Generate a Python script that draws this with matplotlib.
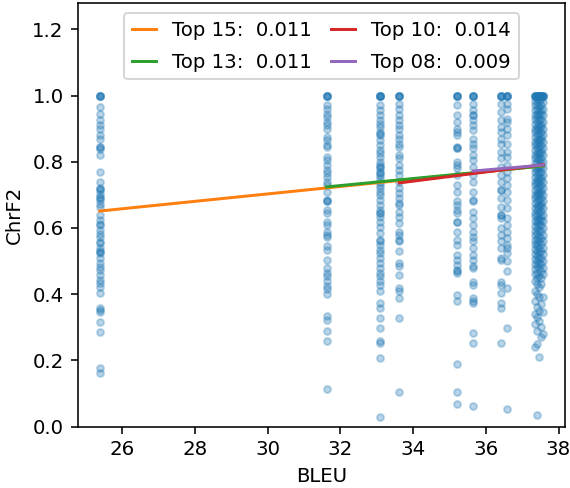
import matplotlib
matplotlib.use("Agg")
import matplotlib.pyplot as plt

# BLEU score of each system (one column of sentences per system)
bleu = [25.38, 31.62, 33.08, 33.62, 35.21, 35.66, 36.42, 36.58,
        37.34, 37.40, 37.46, 37.52, 37.58]

# sentence-level ChrF2 per system
chrf_2538 = [1.0, 1.0, 1.0, 1.0, 0.965, 0.945, 0.925, 0.91, 0.90, 0.88, 0.87, 0.844,
             0.844, 0.839, 0.819, 0.769, 0.739, 0.722, 0.719, 0.716, 0.704, 0.692,
             0.689, 0.683, 0.673, 0.663, 0.638, 0.623, 0.612, 0.608, 0.593, 0.583,
             0.573, 0.556, 0.553, 0.538, 0.531, 0.528, 0.523, 0.508, 0.493, 0.483,
             0.473, 0.458, 0.443, 0.433, 0.423, 0.402, 0.357, 0.352, 0.347, 0.317,
             0.287, 0.176, 0.163]
chrf_3162 = [1.0, 1.0, 1.0, 1.0, 0.97, 0.96, 0.945, 0.935, 0.92, 0.91, 0.90, 0.875,
             0.865, 0.85, 0.845, 0.815, 0.805, 0.79, 0.775, 0.765, 0.754, 0.74, 0.73,
             0.71, 0.684, 0.68, 0.68, 0.654, 0.644, 0.619, 0.609, 0.589, 0.579, 0.574,
             0.544, 0.534, 0.504, 0.479, 0.464, 0.454, 0.439, 0.424, 0.414, 0.399,
             0.333, 0.323, 0.288, 0.258, 0.113]
chrf_3308 = [1.0, 1.0, 1.0, 1.0, 1.0, 0.97, 0.955, 0.94, 0.925, 0.915, 0.905, 0.89,
             0.885, 0.88, 0.865, 0.85, 0.835, 0.825, 0.815, 0.80, 0.79, 0.785, 0.78,
             0.77, 0.765, 0.76, 0.75, 0.74, 0.73, 0.72, 0.71, 0.70, 0.684, 0.669,
             0.654, 0.644, 0.644, 0.634, 0.619, 0.604, 0.584, 0.564, 0.559, 0.549,
             0.534, 0.524, 0.509, 0.494, 0.479, 0.464, 0.454, 0.439, 0.429, 0.409,
             0.374, 0.359, 0.329, 0.299, 0.258, 0.253, 0.208, 0.028]
chrf_3362 = [1.0, 1.0, 1.0, 1.0, 0.975, 0.96, 0.94, 0.925, 0.91, 0.90, 0.88, 0.87,
             0.855, 0.845, 0.82, 0.81, 0.79, 0.775, 0.76, 0.74, 0.72, 0.705, 0.69,
             0.674, 0.669, 0.649, 0.634, 0.614, 0.589, 0.579, 0.564, 0.559, 0.529,
             0.494, 0.484, 0.459, 0.419, 0.409, 0.389, 0.329, 0.103]
chrf_3521 = [1.0, 1.0, 1.0, 1.0, 0.97, 0.94, 0.92, 0.90, 0.89, 0.88, 0.845, 0.84,
             0.84, 0.80, 0.79, 0.78, 0.76, 0.73, 0.71, 0.68, 0.669, 0.654, 0.644,
             0.619, 0.619, 0.589, 0.564, 0.549, 0.519, 0.504, 0.489, 0.474, 0.469,
             0.464, 0.398, 0.378, 0.188, 0.105, 0.068]
chrf_3566 = [1.0, 1.0, 1.0, 1.0, 0.975, 0.955, 0.94, 0.94, 0.925, 0.91, 0.895, 0.87,
             0.855, 0.84, 0.82, 0.805, 0.785, 0.76, 0.74, 0.71, 0.684, 0.68, 0.649,
             0.629, 0.609, 0.589, 0.574, 0.559, 0.539, 0.519, 0.504, 0.484, 0.48,
             0.438, 0.428, 0.389, 0.378, 0.373, 0.283, 0.253, 0.063]
chrf_3642 = [1.0, 1.0, 1.0, 1.0, 0.975, 0.95, 0.925, 0.905, 0.89, 0.87, 0.855, 0.83,
             0.81, 0.785, 0.76, 0.74, 0.714, 0.714, 0.69, 0.664, 0.639, 0.639, 0.629,
             0.599, 0.579, 0.559, 0.539, 0.509, 0.504, 0.438, 0.428, 0.404, 0.373,
             0.358, 0.253]
chrf_3658 = [1.0, 1.0, 1.0, 1.0, 0.975, 0.96, 0.93, 0.92, 0.90, 0.88, 0.855, 0.83,
             0.815, 0.79, 0.77, 0.75, 0.73, 0.71, 0.684, 0.659, 0.629, 0.609, 0.589,
             0.569, 0.549, 0.539, 0.524, 0.499, 0.469, 0.419, 0.298, 0.053]
chrf_3734 = [1.0, 1.0, 1.0, 1.0, 0.985, 0.97, 0.955, 0.94, 0.93, 0.915, 0.90, 0.89,
             0.875, 0.86, 0.85, 0.835, 0.82, 0.81, 0.795, 0.78, 0.77, 0.755, 0.74,
             0.73, 0.715, 0.70, 0.69, 0.675, 0.66, 0.645, 0.635, 0.62, 0.605, 0.59,
             0.58, 0.565, 0.55, 0.535, 0.52, 0.505, 0.49, 0.475, 0.46, 0.44, 0.41,
             0.38, 0.34, 0.31, 0.24]
chrf_3740 = [1.0, 1.0, 1.0, 1.0, 0.99, 0.975, 0.96, 0.945, 0.935, 0.92, 0.905, 0.895,
             0.88, 0.865, 0.855, 0.84, 0.825, 0.815, 0.80, 0.785, 0.775, 0.76, 0.745,
             0.735, 0.72, 0.705, 0.695, 0.68, 0.665, 0.655, 0.64, 0.625, 0.615, 0.60,
             0.585, 0.57, 0.555, 0.545, 0.53, 0.515, 0.50, 0.485, 0.465, 0.45, 0.43,
             0.40, 0.36, 0.33, 0.29, 0.25, 0.035]
chrf_3746 = [1.0, 1.0, 1.0, 1.0, 1.0, 0.98, 0.965, 0.95, 0.94, 0.925, 0.91, 0.90,
             0.885, 0.87, 0.86, 0.845, 0.83, 0.82, 0.805, 0.79, 0.78, 0.765, 0.75,
             0.74, 0.725, 0.71, 0.70, 0.685, 0.67, 0.66, 0.645, 0.63, 0.62, 0.61,
             0.595, 0.575, 0.56, 0.54, 0.525, 0.51, 0.495, 0.48, 0.455, 0.42, 0.39,
             0.35, 0.32, 0.21]
chrf_3752 = [1.0, 1.0, 1.0, 1.0, 0.99, 0.97, 0.955, 0.945, 0.93, 0.915, 0.905, 0.89,
             0.875, 0.865, 0.85, 0.835, 0.825, 0.81, 0.795, 0.785, 0.77, 0.755, 0.745,
             0.73, 0.715, 0.705, 0.69, 0.675, 0.665, 0.65, 0.635, 0.625, 0.61, 0.59,
             0.57, 0.55, 0.53, 0.51, 0.49, 0.47, 0.45, 0.43, 0.37, 0.30, 0.27]
chrf_3758 = [1.0, 1.0, 1.0, 1.0, 0.98, 0.96, 0.94, 0.92, 0.90, 0.88, 0.86, 0.84,
             0.82, 0.80, 0.78, 0.76, 0.74, 0.72, 0.70, 0.68, 0.66, 0.64, 0.62, 0.60,
             0.58, 0.56, 0.54, 0.52, 0.50, 0.48, 0.46, 0.39, 0.345, 0.28]

# regression lines over the top-k systems (start BLEU, ChrF2 at start, slope)
fit_labels = ["Top 15:  0.011", "Top 13:  0.011", "Top 10:  0.014", "Top 08:  0.009"]
fit_x0 = [25.38, 31.62, 33.62, 35.66]
fit_y0 = [0.651, 0.724, 0.736, 0.772]
fit_slope = [0.0112, 0.0106, 0.0139, 0.0094]
fit_x1 = [37.58, 37.58, 37.58, 37.58]
fit_colors = ["tab:orange", "tab:green", "tab:red", "tab:purple"]


def plot_chart():
    columns = [chrf_2538, chrf_3162, chrf_3308, chrf_3362, chrf_3521, chrf_3566,
               chrf_3642, chrf_3658, chrf_3734, chrf_3740, chrf_3746, chrf_3752,
               chrf_3758]

    fig = plt.figure(figsize=(4.0, 3.425), dpi=142.5)
    ax = fig.add_axes([0.136, 0.126, 0.856, 0.868])

    # all sentences as one scatter
    xs, ys = [], []
    for b, col in zip(bleu, columns):
        xs += [b] * len(col)
        ys += col
    ax.scatter(xs, ys, s=12, color="tab:blue", alpha=0.3)

    # fitted lines
    for x0, y0, k, x1, c, lab in zip(fit_x0, fit_y0, fit_slope, fit_x1,
                                      fit_colors, fit_labels):
        ax.plot([x0, x1], [y0, y0 + k * (x1 - x0)], color=c, label=lab)

    ax.set_ylim(0, 1.28)
    ax.set_yticks([0.0, 0.2, 0.4, 0.6, 0.8, 1.0, 1.2])
    ax.set_xticks([26, 28, 30, 32, 34, 36, 38])
    ax.set_xlabel("BLEU")
    ax.set_ylabel("ChrF2")
    ax.legend(loc="upper center", ncol=2, handlelength=1.2, columnspacing=1.0,
              labelspacing=0.65)
    return fig


def main():
    fig = plot_chart()
    fig.savefig("out.png", dpi=142.5)


if __name__ == "__main__":
    main()
